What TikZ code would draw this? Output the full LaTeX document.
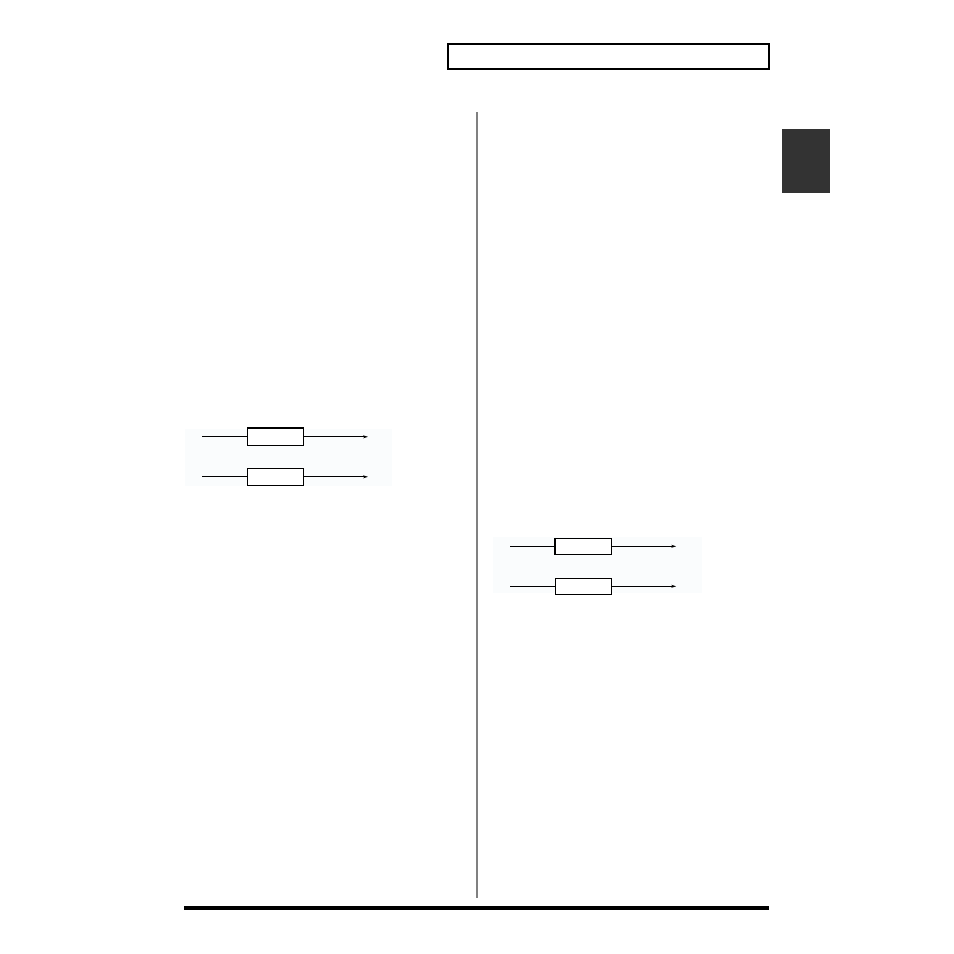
\documentclass[tikz,border=0pt]{standalone}
\usepackage{tikz}
\usetikzlibrary {positioning}
\usetikzlibrary{arrows.meta}
\definecolor{panel}{RGB}{250,252,253}
\definecolor{rule}{rgb}{0.5,0.5,0.5}
\definecolor{tab}{rgb}{0.2,0.2,0.2}

\begin{document}
\begin{tikzpicture}[x=1pt,y=-1pt,
  unit/.style={draw,line width=1pt,fill=white,minimum width=56pt,minimum height=17pt,inner sep=0pt},
  sig/.style={line width=1pt},
  sigout/.style={line width=0.8pt,-{Stealth[length=5pt,width=3pt]}}]

  \useasboundingbox (0,0) rectangle (954,954);

  % page frame
  \draw[line width=2pt] (447.5,43.5) rectangle (768.5,68.5);
  \fill[tab] (782,129) rectangle (830,193);
  \draw[rule,line width=2pt] (477,112) -- (477,898);
  \fill (184,906) rectangle (769,910);

  % left chain
  \fill[panel] (185,429) rectangle (392,486);
  \node[unit] (la) at (275.5,436.8) {};
  \node[unit,below=22pt of la] (lb) {};
  \coordinate[left=44.6pt of la] (lain);
  \coordinate[right=64pt of la] (laout);
  \coordinate[left=44.6pt of lb] (lbin);
  \coordinate[right=64pt of lb] (lbout);

  \draw[sig] (lain) -- (la);
  \draw[sigout] (la) -- (laout);
  \draw[sig] (lbin) -- (lb);
  \draw[sigout] (lb) -- (lbout);
  \draw[line width=2pt] (la.north west) -- (la.north east);

  % right chain
  \fill[panel] (493,537) rectangle (702,593);
  \node[unit,minimum height=16pt] (ra) at (583.3,546.3) {};
  \node[unit,minimum height=16pt,below=23pt of ra] (rb) {};
  \coordinate[left=44.6pt of ra] (rain);
  \coordinate[right=64.4pt of ra] (raout);
  \coordinate[left=44.6pt of rb] (rbin);
  \coordinate[right=64.4pt of rb] (rbout);

  \draw[sig] (rain) -- (ra);
  \draw[sigout] (ra) -- (raout);
  \draw[sig] (rbin) -- (rb);
  \draw[sigout] (rb) -- (rbout);
  \draw[line width=2pt] (ra.north west) -- (ra.south west);

\end{tikzpicture}
\end{document}
